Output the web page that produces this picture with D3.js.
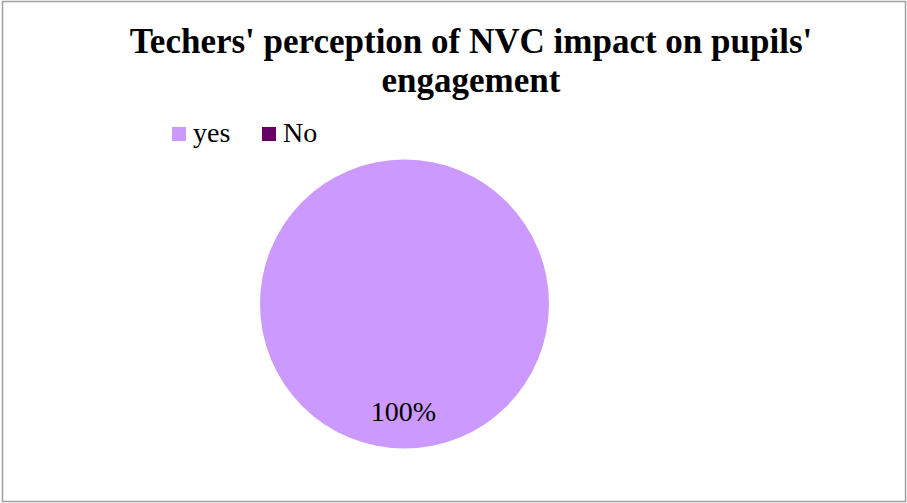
<!DOCTYPE html>
<html>
<head>
<meta charset="utf-8">
<script src="https://cdn.jsdelivr.net/npm/d3@7"></script>
<style>
  html, body { margin: 0; padding: 0; background: #fff; }
  svg { display: block; }
  text { font-family: "Liberation Serif", "Times New Roman", serif; }
</style>
</head>
<body>
<script>
// Survey answers
const categories = ["yes", "No"];
const values = [100, 0];
const colors = ["#CC99FF", "#660066"];
const titleLines = ["Techers' perception of NVC impact on pupils'", "engagement"];

const W = 907, H = 503;
const svg = d3.select("body").append("svg").attr("width", W).attr("height", H);

// Chart frame
svg.append("rect")
  .attr("x", 2.5).attr("y", 1.5)
  .attr("width", 903).attr("height", 500)
  .attr("fill", "#fff").attr("stroke", "#a0a0a0").attr("stroke-width", 1.5);

// Title
const title = svg.append("text")
  .attr("text-anchor", "middle")
  .attr("font-weight", "bold")
  .attr("font-size", 35)
  .attr("fill", "#000");
titleLines.forEach((t, i) => {
  title.append("tspan").attr("x", 471).attr("y", 53 + i * 39).text(t);
});

// Legend
const color = d3.scaleOrdinal().domain(categories).range(colors);
const legendX = d3.scalePoint().domain(categories).range([172, 262]);
const leg = svg.append("g").selectAll("g").data(categories).join("g")
  .attr("transform", d => `translate(${legendX(d)},127)`);
leg.append("rect").attr("width", 14).attr("height", 14).attr("fill", d => color(d));
leg.append("text").attr("x", 21).attr("y", 15).attr("font-size", 28).attr("fill", "#000").text(d => d);

// Pie
const cx = 404.5, cy = 304, r = 144.5;
const pie = d3.pie().sort(null).value(d => d.v);
const arcs = pie(categories.map((c, i) => ({ c, v: values[i] })));
const arc = d3.arc().innerRadius(0).outerRadius(r);
const g = svg.append("g").attr("transform", `translate(${cx},${cy})`);
g.selectAll("path").data(arcs.filter(d => d.data.v > 0)).join("path")
  .attr("d", arc)
  .attr("fill", d => color(d.data.c));

// Data label for the full slice, set in the lower part of the disc
const total = d3.sum(values);
g.selectAll("text.lbl").data(arcs.filter(d => d.data.v > 0)).join("text")
  .attr("class", "lbl")
  .attr("x", -1).attr("y", 117)
  .attr("text-anchor", "middle")
  .attr("font-size", 28)
  .attr("fill", "#000")
  .text(d => Math.round(d.data.v / total * 100) + "%");
</script>
</body>
</html>
